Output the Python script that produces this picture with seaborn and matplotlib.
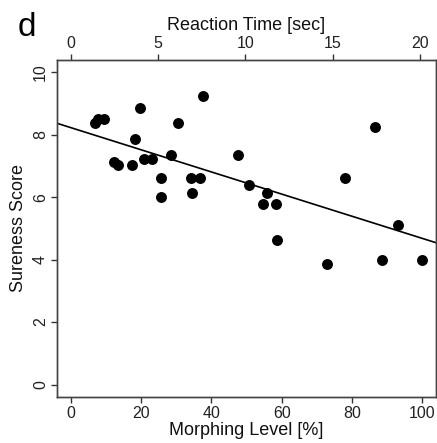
import numpy as np
import pandas as pd
import seaborn as sns
import matplotlib
matplotlib.use("Agg")
import matplotlib.pyplot as plt

# values
morphing = [6.7, 7.6, 9.3, 12.1, 13.5, 17.5, 18.1, 19.7, 20.9, 23.1,
            25.7, 25.7, 28.5, 30.5, 34.2, 34.5, 36.7, 37.6, 47.5, 50.6,
            54.6, 55.7, 58.3, 58.6, 73.0, 78.1, 86.6, 88.6, 93.1, 99.9]
sureness = [8.37, 8.52, 8.52, 7.13, 7.02, 7.02, 7.88, 8.87, 7.23, 7.23,
            6.62, 6.01, 7.37, 8.37, 6.62, 6.14, 6.62, 9.25, 7.37, 6.39,
            5.77, 6.14, 5.77, 4.62, 3.87, 6.62, 8.25, 4.00, 5.12, 4.00]
x_ticks = [0, 20, 40, 60, 80, 100]
y_ticks = [0, 2, 4, 6, 8, 10]
rt_ticks = [0, 5, 10, 15, 20]
pct_per_sec = 4.967  # top axis scale

df = pd.DataFrame({"morph": morphing, "sure": sureness})

sns.set_style("ticks")
plt.rcParams["font.family"] = ["Liberation Sans", "DejaVu Sans"]

fig = plt.figure(figsize=(4.37, 4.43), dpi=100)
ax = fig.add_axes([0.1304, 0.1038, 0.8676, 0.7608])
xlim = (-4, 104)
ax.set_xlim(*xlim)
ax.set_ylim(-0.4, 10.4)

sns.regplot(data=df, x="morph", y="sure", ci=None, truncate=False, ax=ax,
            scatter_kws=dict(s=62, color="black", linewidths=0, alpha=1),
            line_kws=dict(color="black", lw=1.2))
ax.set_xlim(*xlim)
ax.set_ylim(-0.4, 10.4)

for sp in ax.spines.values():
    sp.set_color("#444444")
    sp.set_linewidth(1.0)

ax.set_xticks(x_ticks)
ax.set_yticks(y_ticks)
ax.tick_params(axis="both", length=4.5, width=1.0, color="#333333",
               labelsize=11.5, labelcolor="#222222", pad=2,
               direction="out")
ax.tick_params(axis="y", labelrotation=90)
for lbl in ax.get_yticklabels():
    lbl.set_va("center")

ax.set_xlabel("Morphing Level [%]", fontsize=13, labelpad=1, color="#111111")
ax.set_ylabel("Sureness Score", fontsize=13, labelpad=4, color="#111111")

top = ax.twiny()
top.set_xlim(xlim[0] / pct_per_sec, xlim[1] / pct_per_sec)
top.set_xticks(rt_ticks)
top.tick_params(axis="x", top=True, bottom=False, labeltop=True,
                labelbottom=False, length=4.5, width=1.0, color="#333333",
                labelsize=11.5, labelcolor="#222222", pad=2,
                direction="out")
for sp in top.spines.values():
    sp.set_color("#444444")
    sp.set_linewidth(1.0)
top.set_xlabel("Reaction Time [sec]", fontsize=13, labelpad=4, color="#111111")

fig.text(0.04, 1 - 36 / 443, "d", fontsize=24, va="baseline", color="black")

fig.savefig("out.png", dpi=100, facecolor="white")
